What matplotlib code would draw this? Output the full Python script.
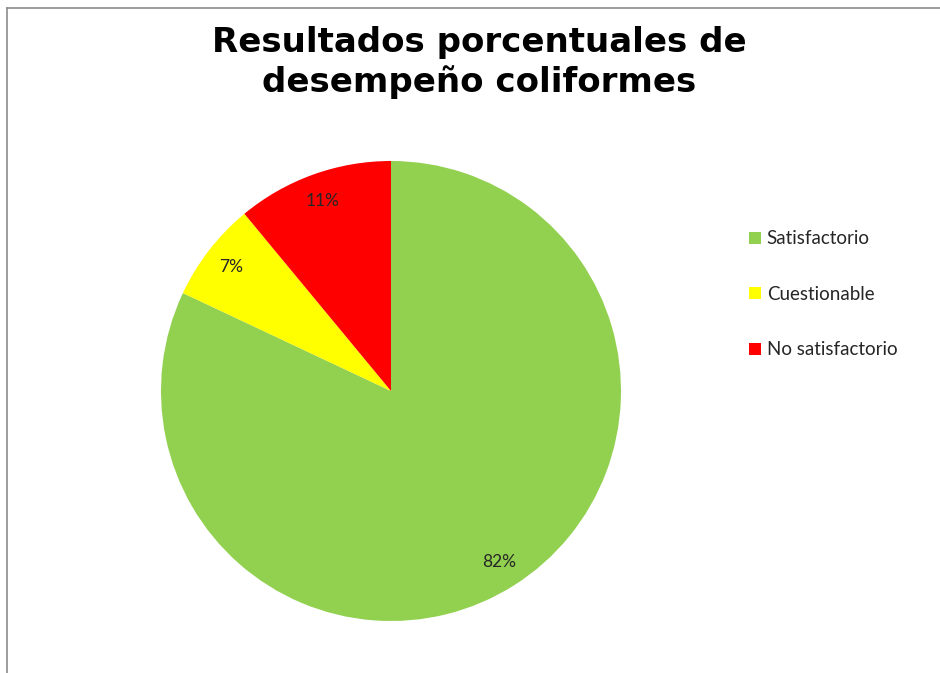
import matplotlib.pyplot as plt
from matplotlib.patches import Patch
from matplotlib.lines import Line2D

categorias = ['Satisfactorio', 'Cuestionable', 'No satisfactorio']
porcentajes = [82, 7, 11]
colores = ['#92D050', '#FFFF00', '#FF0000']
titulo = ['Resultados porcentuales de', 'desempeño coliformes']

W, H = 940, 673
fig = plt.figure(figsize=(W / 100, H / 100), dpi=100)
fig.patch.set_facecolor('white')

# marco gris del área del gráfico (solo se ven los bordes superior e izquierdo)
fig.add_artist(Line2D([7.5 / W, 7.5 / W], [0, 1 - 7.5 / H], color='#8c8c8c', lw=1.2))
fig.add_artist(Line2D([7.5 / W, 1], [1 - 7.5 / H, 1 - 7.5 / H], color='#8c8c8c', lw=1.2))

# círculo: centro (391, 391) px, radio 230 px
cx, cy, r = 391, 391, 230
ax = fig.add_axes([(cx - r) / W, 1 - (cy + r) / H, 2 * r / W, 2 * r / H])
wedges, textos, autotextos = ax.pie(
    porcentajes,
    colors=colores,
    startangle=90,
    counterclock=False,
    autopct='%1.0f%%',
    pctdistance=0.88,
    radius=1,
    wedgeprops={'linewidth': 0},
    textprops={'fontsize': 12.5, 'color': '#262626', 'family': 'Lato'},
)
ax.set_xlim(-1, 1)
ax.set_ylim(-1, 1)
ax.set_aspect('equal')
ax.axis('off')

# título en dos líneas, alineado por la línea base
for linea, y_base in zip(titulo, [52, 92]):
    fig.text(479 / W, 1 - y_base / H, linea, ha='center', va='baseline',
             fontsize=24.5, fontweight='bold', family='DejaVu Sans', color='black')

handles = [Patch(facecolor=c, edgecolor='none') for c in colores]
leg = fig.legend(handles, categorias, loc='upper left',
                 bbox_to_anchor=(740 / W, 1 - 221 / H),
                 frameon=False, handlelength=0.62, handleheight=0.62,
                 handletextpad=0.3, labelspacing=2.05, borderpad=0,
                 prop={'family': 'Lato', 'size': 13.5})
for t in leg.get_texts():
    t.set_color('#262626')

fig.savefig('out.png', dpi=100, facecolor='white')
